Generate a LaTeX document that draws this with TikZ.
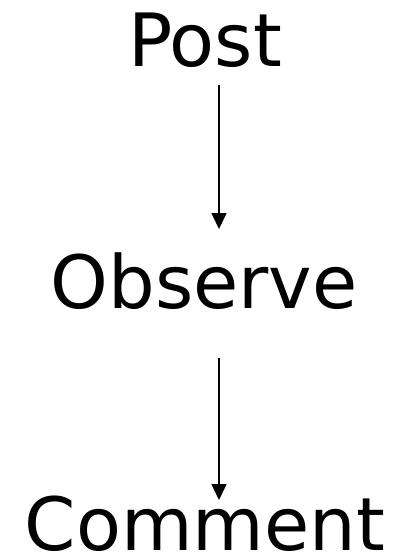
\documentclass[tikz,border=0pt]{standalone}
\usepackage{fontspec}
\setmainfont{DejaVu Sans}
\usetikzlibrary{arrows.meta}
\begin{document}
\begin{tikzpicture}[x=1pt,y=1pt,
  lbl/.style={inner sep=0pt,anchor=base,font=\fontsize{73.5}{80}\selectfont},
  conn/.style={line width=1.6pt,-{Triangle[length=16pt,width=15pt]}}]
\useasboundingbox (0,0) rectangle (393,-555);
\node[lbl] (post) at (205,-66) {Post};
\node[lbl] (observe) at (204,-308) {Observe};
\node[lbl] (comment) at (205,-550) {Comment};
\coordinate (a1s) at (219,-85);
\coordinate (a1e) at (219,-229);
\coordinate (a2s) at (219,-358);
\coordinate (a2e) at (219,-500);
\draw[conn] (a1s) -- (a1e);
\draw[conn] (a2s) -- (a2e);
\end{tikzpicture}
\end{document}
